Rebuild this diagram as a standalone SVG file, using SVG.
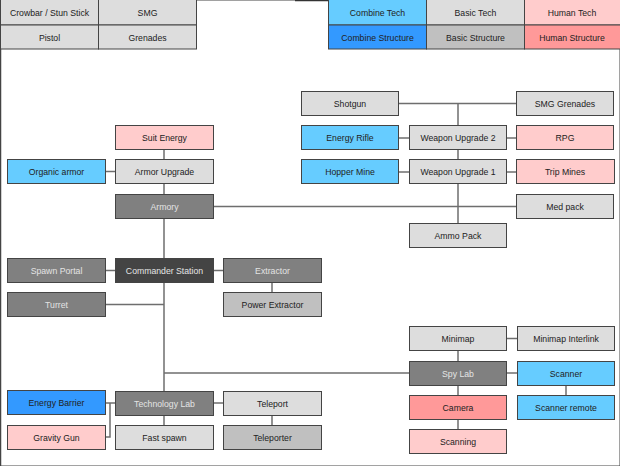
<svg xmlns="http://www.w3.org/2000/svg" width="620" height="466" viewBox="0 0 620 466">
<style>
rect{stroke:#444;stroke-width:1}
text{font-family:"Liberation Sans",Arial,sans-serif;font-size:8.7px;text-anchor:middle;fill:#222}
.lt{fill:#e4e4e4}
.ct{fill:#66ccff}.cs{fill:#3399ff}.bt{fill:#dddddd}.bs{fill:#c0c0c0}.ht{fill:#ffcccc}.hs{fill:#ff9999}.st{fill:#808080}.cc{fill:#444444}
#connectors line,#connectors polyline{stroke:#6e6e6e;stroke-width:1.5;fill:none}
</style>
<rect width="620" height="466" fill="#fff" stroke="none"/>
<g id="frame">
<line x1="0.5" y1="0" x2="0.5" y2="466" stroke="#444" stroke-width="1.5"/>
<line x1="295" y1="0.5" x2="329" y2="0.5" stroke="#333" stroke-width="1.5"/>
</g>
<g id="legend">
<g id="lg-crowbar"><rect class="bt" x="0.5" y="-1" width="98" height="26"/><text x="49.5" y="15.5">Crowbar / Stun Stick</text></g>
<g id="lg-smg"><rect class="bt" x="98.5" y="-1" width="98" height="26"/><text x="147.5" y="15.5">SMG</text></g>
<g id="lg-pistol"><rect class="bt" x="0.5" y="25" width="98" height="24"/><text x="49.5" y="40.5">Pistol</text></g>
<g id="lg-grenades"><rect class="bt" x="98.5" y="25" width="98" height="24"/><text x="147.5" y="40.5">Grenades</text></g>
<g id="lg-combine-tech"><rect class="ct" x="328.5" y="-1" width="98" height="26"/><text x="377.5" y="15.5">Combine Tech</text></g>
<g id="lg-basic-tech"><rect class="bt" x="426.5" y="-1" width="98" height="26"/><text x="475.5" y="15.5">Basic Tech</text></g>
<g id="lg-human-tech"><rect class="ht" x="524.5" y="-1" width="98" height="26"/><text x="572" y="15.5">Human Tech</text></g>
<g id="lg-combine-structure"><rect class="cs" x="328.5" y="25" width="98" height="24"/><text x="377.5" y="40.5">Combine Structure</text></g>
<g id="lg-basic-structure"><rect class="bs" x="426.5" y="25" width="98" height="24"/><text x="475.5" y="40.5">Basic Structure</text></g>
<g id="lg-human-structure"><rect class="hs" x="524.5" y="25" width="98" height="24"/><text x="572" y="40.5">Human Structure</text></g>
</g>
<g id="connectors">
<line x1="164" y1="150" x2="164" y2="159"/>
<line x1="164" y1="184" x2="164" y2="194"/>
<line x1="164" y1="219" x2="164" y2="258"/>
<line x1="164" y1="283" x2="164" y2="391"/>
<line x1="164" y1="415" x2="164" y2="425"/>
<line x1="106" y1="171.5" x2="115" y2="171.5"/>
<line x1="213" y1="206.5" x2="516" y2="206.5"/>
<line x1="399" y1="103.5" x2="516" y2="103.5"/>
<line x1="458" y1="103.5" x2="458" y2="126"/>
<line x1="458" y1="150" x2="458" y2="160"/>
<line x1="458" y1="184" x2="458" y2="223"/>
<line x1="399" y1="138" x2="409" y2="138"/>
<line x1="506" y1="138" x2="516" y2="138"/>
<line x1="399" y1="172" x2="409" y2="172"/>
<line x1="506" y1="172" x2="516" y2="172"/>
<line x1="106" y1="270.5" x2="115" y2="270.5"/>
<line x1="213" y1="270.5" x2="223" y2="270.5"/>
<line x1="272" y1="283" x2="272" y2="292"/>
<line x1="106" y1="304.5" x2="164" y2="304.5"/>
<line x1="164" y1="373" x2="409" y2="373"/>
<line x1="458" y1="351" x2="458" y2="361"/>
<line x1="458" y1="386" x2="458" y2="395"/>
<line x1="458" y1="419" x2="458" y2="429"/>
<line x1="507" y1="338.5" x2="517" y2="338.5"/>
<line x1="507" y1="373" x2="517" y2="373"/>
<line x1="566" y1="386" x2="566" y2="395"/>
<line x1="106" y1="403" x2="115" y2="403"/>
<polyline points="106,437 110,437 110,403"/>
<line x1="213" y1="403" x2="223" y2="403"/>
<line x1="272" y1="415" x2="272" y2="425"/>
</g>
<g id="suit-energy"><rect class="ht" x="115.5" y="125.5" width="98" height="24"/><text x="164.5" y="140.5">Suit Energy</text></g>
<g id="armor-upgrade"><rect class="bt" x="115.5" y="159.5" width="98" height="24"/><text x="164.5" y="174.5">Armor Upgrade</text></g>
<g id="organic-armor"><rect class="ct" x="7.5" y="159.5" width="98" height="24"/><text x="56.5" y="174.5">Organic armor</text></g>
<g id="armory"><rect class="st" x="115.5" y="194.5" width="98" height="24"/><text class="lt" x="164.5" y="209.5">Armory</text></g>
<g id="shotgun"><rect class="bt" x="301.5" y="91.5" width="97" height="24"/><text x="350" y="106.5">Shotgun</text></g>
<g id="smg-grenades"><rect class="bt" x="516.5" y="91.5" width="97" height="24"/><text x="565" y="106.5">SMG Grenades</text></g>
<g id="energy-rifle"><rect class="ct" x="301.5" y="125.5" width="97" height="24"/><text x="350" y="140.5">Energy Rifle</text></g>
<g id="weapon-upgrade-2"><rect class="bt" x="409.5" y="125.5" width="97" height="24"/><text x="458" y="140.5">Weapon Upgrade 2</text></g>
<g id="rpg"><rect class="ht" x="516.5" y="125.5" width="97" height="24"/><text x="565" y="140.5">RPG</text></g>
<g id="hopper-mine"><rect class="ct" x="301.5" y="159.5" width="97" height="24"/><text x="350" y="174.5">Hopper Mine</text></g>
<g id="weapon-upgrade-1"><rect class="bt" x="409.5" y="159.5" width="97" height="24"/><text x="458" y="174.5">Weapon Upgrade 1</text></g>
<g id="trip-mines"><rect class="ht" x="516.5" y="159.5" width="98" height="24"/><text x="565" y="174.5">Trip Mines</text></g>
<g id="med-pack"><rect class="bt" x="516.5" y="194.5" width="97" height="24"/><text x="565" y="209.5">Med pack</text></g>
<g id="ammo-pack"><rect class="bt" x="409.5" y="223.5" width="97" height="24"/><text x="458" y="238.5">Ammo Pack</text></g>
<g id="spawn-portal"><rect class="st" x="7.5" y="258.5" width="98" height="24"/><text class="lt" x="56.5" y="273.5">Spawn Portal</text></g>
<g id="commander-station"><rect class="cc" x="115.5" y="258.5" width="98" height="24"/><text class="lt" x="164.5" y="273.5">Commander Station</text></g>
<g id="extractor"><rect class="st" x="223.5" y="258.5" width="98" height="24"/><text class="lt" x="272.5" y="273.5">Extractor</text></g>
<g id="turret"><rect class="st" x="7.5" y="292.5" width="98" height="24"/><text class="lt" x="56.5" y="307.5">Turret</text></g>
<g id="power-extractor"><rect class="bs" x="223.5" y="292.5" width="98" height="24"/><text x="272.5" y="307.5">Power Extractor</text></g>
<g id="minimap"><rect class="bt" x="409.5" y="326.5" width="97" height="24"/><text x="458" y="341.5">Minimap</text></g>
<g id="minimap-interlink"><rect class="bt" x="517.5" y="326.5" width="97" height="24"/><text x="566" y="341.5">Minimap Interlink</text></g>
<g id="spy-lab"><rect class="st" x="409.5" y="361.5" width="97" height="24"/><text class="lt" x="458" y="376.5">Spy Lab</text></g>
<g id="scanner"><rect class="ct" x="517.5" y="361.5" width="97" height="24"/><text x="566" y="376.5">Scanner</text></g>
<g id="camera"><rect class="hs" x="409.5" y="395.5" width="97" height="24"/><text x="458" y="410.5">Camera</text></g>
<g id="scanner-remote"><rect class="ct" x="517.5" y="395.5" width="97" height="24"/><text x="566" y="410.5">Scanner remote</text></g>
<g id="scanning"><rect class="ht" x="409.5" y="429.5" width="97" height="24"/><text x="458" y="444.5">Scanning</text></g>
<g id="energy-barrier"><rect class="cs" x="7.5" y="390.5" width="98" height="24"/><text x="56.5" y="405.5">Energy Barrier</text></g>
<g id="technology-lab"><rect class="st" x="115.5" y="391.5" width="98" height="24"/><text class="lt" x="164.5" y="406.5">Technology Lab</text></g>
<g id="teleport"><rect class="bt" x="223.5" y="391.5" width="98" height="24"/><text x="272.5" y="406.5">Teleport</text></g>
<g id="gravity-gun"><rect class="ht" x="7.5" y="425.5" width="98" height="24"/><text x="56.5" y="440.5">Gravity Gun</text></g>
<g id="fast-spawn"><rect class="bt" x="115.5" y="425.5" width="98" height="24"/><text x="164.5" y="440.5">Fast spawn</text></g>
<g id="teleporter"><rect class="bs" x="223.5" y="425.5" width="98" height="24"/><text x="272.5" y="440.5">Teleporter</text></g>
</svg>
